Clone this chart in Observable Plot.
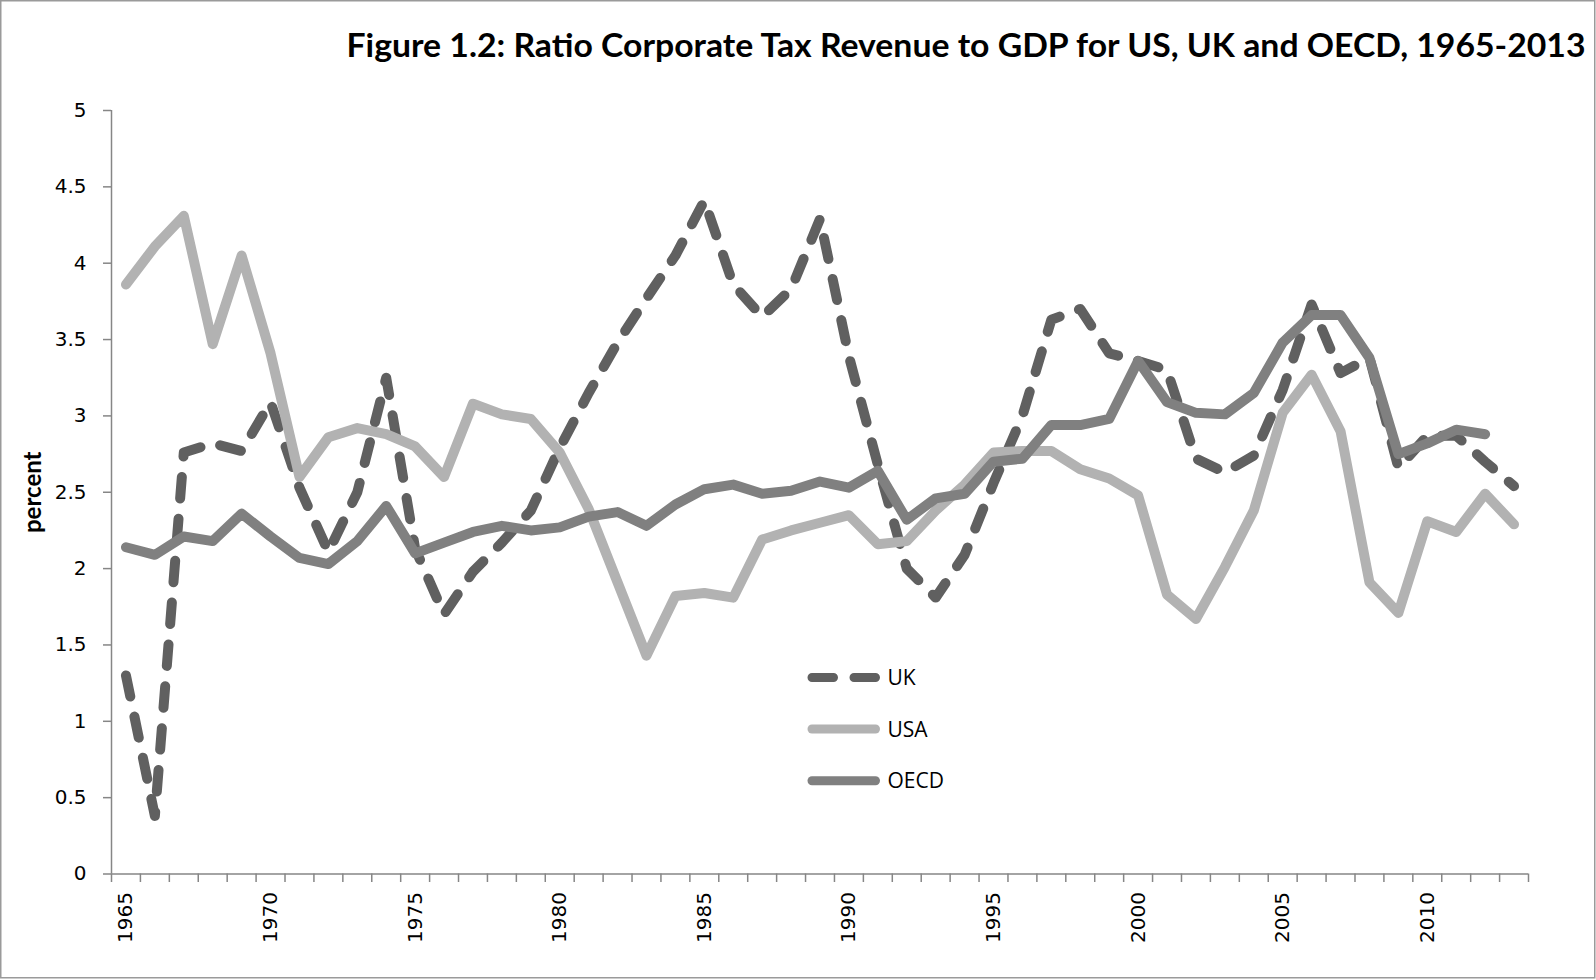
<!DOCTYPE html>
<html>
<head>
<meta charset="utf-8">
<script src="https://cdn.jsdelivr.net/npm/d3@7"></script>
<script src="https://cdn.jsdelivr.net/npm/@observablehq/plot@0.6"></script>
<style>
  html, body { margin: 0; padding: 0; background: #fff; }
  #chart svg { display: block; }
</style>
</head>
<body>
<div id="chart"></div>
<script>
const titleText = "Figure 1.2: Ratio Corporate Tax Revenue to GDP for US, UK and OECD, 1965-2013";
const yAxisTitle = "percent";

const years = [1965,1966,1967,1968,1969,1970,1971,1972,1973,1974,
  1975,1976,1977,1978,1979,1980,1981,1982,1983,1984,
  1985,1986,1987,1988,1989,1990,1991,1992,1993,1994,
  1995,1996,1997,1998,1999,2000,2001,2002,2003,2004,
  2005,2006,2007,2008,2009,2010,2011,2012,2013];

const seriesNames = ["UK", "USA", "OECD"];

const ukValues = [1.30,0.38,2.76,2.82,2.77,3.09,2.53,2.11,2.50,3.25,
  2.13,1.70,1.98,2.17,2.38,2.79,3.15,3.48,3.77,4.05,
  4.41,3.86,3.65,3.83,4.29,3.39,2.68,2.00,1.81,2.09,
  2.56,3.00,3.63,3.70,3.41,3.36,3.30,2.72,2.63,2.74,
  3.17,3.73,3.28,3.38,2.66,2.87,2.87,2.70,2.54];

const usaValues = [3.86,4.11,4.31,3.47,4.05,3.41,2.60,2.86,2.92,2.88,
  2.80,2.60,3.08,3.01,2.98,2.76,2.39,1.91,1.43,1.82,
  1.84,1.81,2.19,2.25,2.30,2.35,2.16,2.18,2.38,2.55,
  2.76,2.77,2.77,2.65,2.59,2.48,1.83,1.67,2.01,2.38,
  3.02,3.27,2.90,1.91,1.71,2.31,2.24,2.49,2.29];

const oecdValues = [2.14,2.09,2.21,2.18,2.36,2.21,2.07,2.03,2.18,2.41,
  2.10,2.17,2.24,2.28,2.25,2.27,2.34,2.37,2.28,2.42,
  2.52,2.55,2.49,2.51,2.57,2.53,2.64,2.32,2.46,2.49,
  2.70,2.72,2.94,2.94,2.98,3.36,3.09,3.02,3.01,3.15,
  3.48,3.66,3.66,3.38,2.75,2.82,2.91,2.88,null];

const yTicks = [0,0.5,1,1.5,2,2.5,3,3.5,4,4.5,5];
const xLabelYears = [1965,1970,1975,1980,1985,1990,1995,2000,2005,2010];

// styles
const colors = {UK: "#606060", USA: "#b2b2b2", OECD: "#808080"};
const axisGray = "#868686";
const lineW = 10;
const dash = "21.5,20.5";

const valuesBySeries = {UK: ukValues, USA: usaValues, OECD: oecdValues};
const rows = seriesNames.flatMap(s =>
  years.map((year, i) => ({series: s, year, value: valuesBySeries[s][i]}))
       .filter(d => d.value != null));

const xMin = years[0] - 0.5, xMax = years[years.length - 1] + 0.5;
const boundaries = years.map(y => y - 0.5).concat([xMax]);

const lineOpts = s => ({
  x: "year", y: "value",
  stroke: colors[s], strokeWidth: lineW,
  strokeLinecap: "round", strokeLinejoin: "round",
  strokeDasharray: s === "UK" ? dash : null
});

const chart = Plot.plot({
  width: 1596,
  height: 980,
  marginLeft: 111,
  marginRight: 68,
  marginTop: 110,
  marginBottom: 106.5,
  style: {background: "#fff", fontFamily: "DejaVu Sans", overflow: "visible"},
  x: {domain: [xMin, xMax], axis: null},
  y: {domain: [yTicks[0], yTicks[yTicks.length - 1]], axis: null},
  marks: [
    // axes
    Plot.ruleX([xMin], {stroke: axisGray, strokeWidth: 1.5}),
    Plot.ruleY(yTicks, {x1: xMin, x2: xMin, insetLeft: -8, stroke: axisGray, strokeWidth: 1.5}),
    Plot.ruleX(boundaries, {y1: 0, y2: 0, insetBottom: -8.5, stroke: axisGray, strokeWidth: 1.5}),
    Plot.ruleY([0], {stroke: axisGray, strokeWidth: 1.5}),
    Plot.text(yTicks, {x: xMin, y: d => d, text: d => String(d), textAnchor: "end", dx: -25,
      fontSize: 20, fontFamily: "DejaVu Sans", fill: "#000"}),
    Plot.text(xLabelYears, {x: d => d, y: 0, text: d => String(d), rotate: -90, textAnchor: "end",
      lineAnchor: "middle", dy: 18, fontSize: 20, fontFamily: "DejaVu Sans", fill: "#000"}),
    Plot.text([yAxisTitle], {frameAnchor: "left", rotate: -90, dx: -78, text: d => d,
      textAnchor: "middle", lineAnchor: "middle",
      fontSize: 24, fontWeight: "bold", fontFamily: "Lato", fill: "#000"}),
    Plot.text([titleText], {frameAnchor: "top-right", dx: 57, dy: -64, text: d => d, textAnchor: "end",
      lineAnchor: "middle", fontSize: 32, fontWeight: "bold", fontFamily: "Lato", fill: "#000"}),
    // series
    ...seriesNames.map(s => Plot.line(rows.filter(d => d.series === s), lineOpts(s)))
  ]
});

document.getElementById("chart").appendChild(chart);

const svg = d3.select(chart);
svg.selectAll("text").filter(function () { return this.textContent === titleText; })
  .attr("textLength", 1239).attr("lengthAdjust", "spacingAndGlyphs");

// outer border
svg.append("rect").attr("x", 0.75).attr("y", 0.75).attr("width", 1594).attr("height", 977)
  .attr("fill", "none").attr("stroke", "#9a9a9a").attr("stroke-width", 1.5);

// legend
const legend = svg.append("g").attr("text-anchor", "start");
const legX1 = 812, legX2 = 875.5, legTextX = 887.5;
const legY = [677.5, 729, 780.7];
seriesNames.forEach((s, i) => {
  legend.append("line").attr("x1", legX1).attr("x2", legX2).attr("y1", legY[i]).attr("y2", legY[i])
    .attr("stroke", colors[s]).attr("stroke-width", 9).attr("stroke-linecap", "round")
    .attr("stroke-dasharray", s === "UK" ? dash : null);
  legend.append("text").attr("x", legTextX).attr("y", legY[i]).attr("dy", "0.36em")
    .attr("text-anchor", "start")
    .attr("font-family", "Open Sans").attr("font-size", 21).attr("fill", "#000").text(s);
});
</script>
</body>
</html>
